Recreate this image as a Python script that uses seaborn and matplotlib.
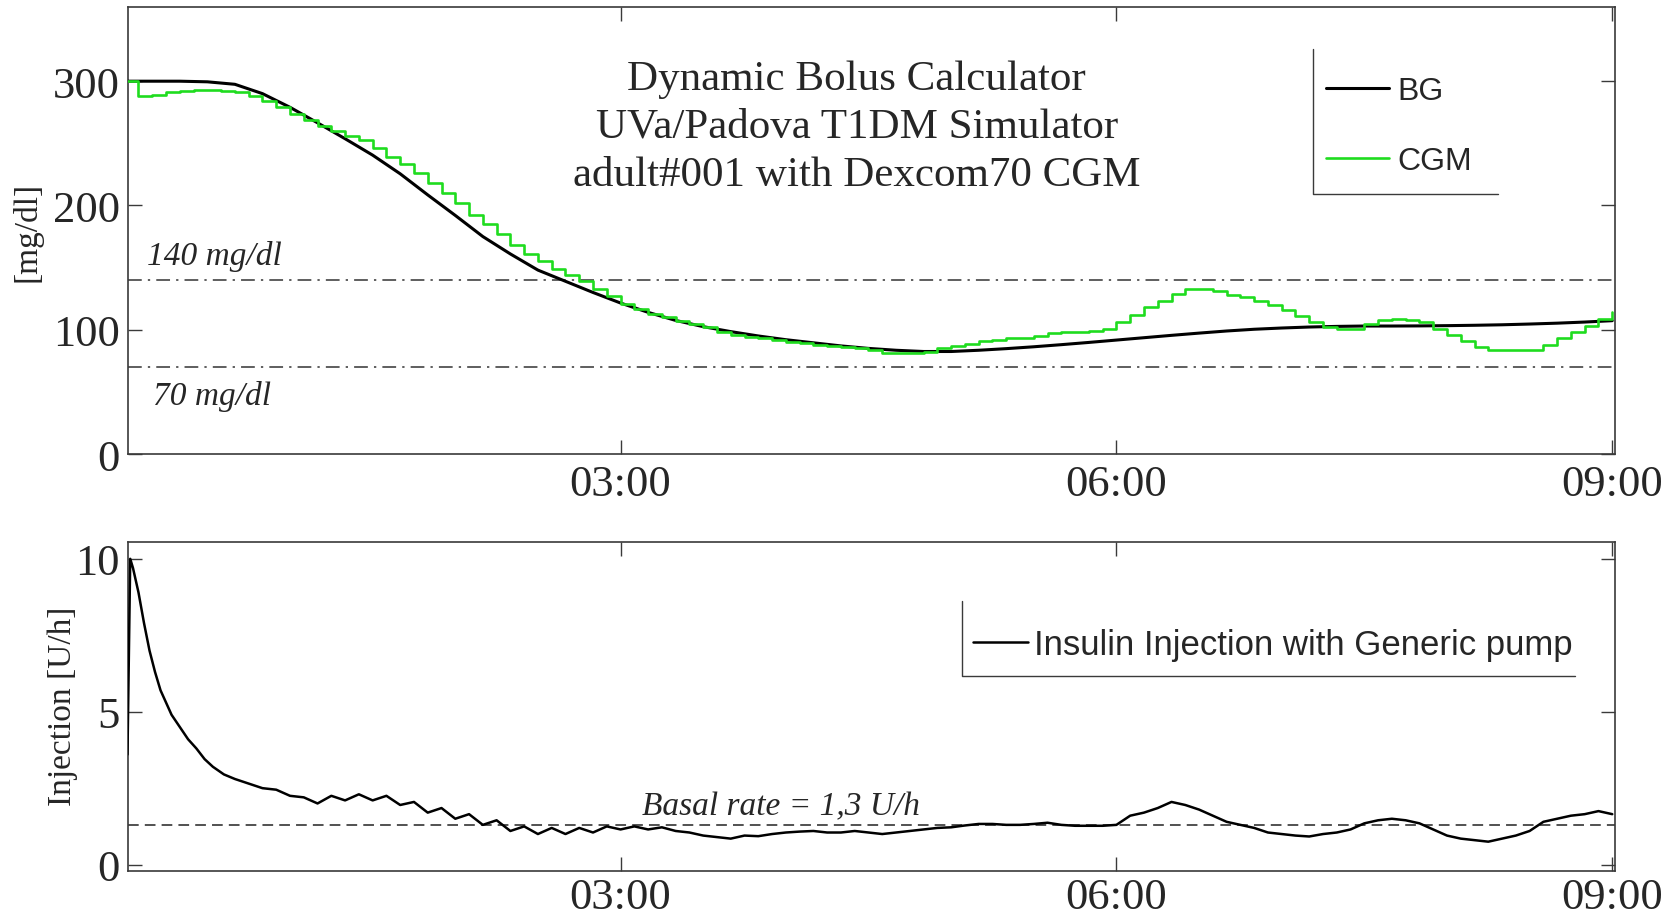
import numpy as np
import pandas as pd
import matplotlib
matplotlib.use("Agg")
import matplotlib.pyplot as plt
import seaborn as sns
from matplotlib.lines import Line2D

# ---------------- data ----------------
bg_minutes = list(range(0, 541, 10))
bg_values = [300, 300, 300, 299.5, 297.5, 290, 279, 266.5, 253.7, 240.5,
             225.5, 208.5, 192, 175, 161, 148, 139, 130, 121.5, 114,
             107.5, 102.5, 98.5, 95, 92, 89.5, 87, 85, 83.5, 82.5,
             82.5, 83.5, 84.8, 86.3, 88, 89.8, 91.7, 93.6, 95.5, 97.3,
             99, 100.4, 101.4, 102.2, 102.7, 103, 103, 103.1, 103.3, 103.6,
             104, 104.6, 105.3, 106.2, 107.3]

cgm_minutes = list(range(0, 541, 5))
cgm_values = [300, 288, 289, 291, 292.5, 293, 293, 292.5, 291, 288,
              284, 279, 274, 269, 264, 260, 256, 253, 246, 239,
              233, 226, 218, 210, 202, 192, 185, 177, 168, 161,
              155, 149, 144, 139, 133, 127, 121, 117, 113, 110,
              107, 105, 102, 98, 96, 94.5, 93.5, 92, 90.5, 89,
              88, 87, 86, 85, 83.5, 81.5, 81, 81, 82.5, 85,
              87, 88.5, 91, 92, 93, 93.5, 95, 97, 98, 98.5,
              99, 101, 106, 112, 118, 123, 129, 132.5, 132.5, 131,
              128, 126, 123, 120, 116, 111, 106, 102, 101, 101,
              105, 108, 108.5, 108, 106, 101, 96, 91, 86, 84,
              83.5, 83.5, 84, 88, 93, 98, 103, 109, 114]

ins_minutes = [1, 2, 3, 5, 7, 9, 11, 13, 15, 17, 20, 23, 26, 29, 32, 36, 40, 45, 50] + list(range(55, 541, 5))
ins_values = [3.6, 10.0, 9.7, 8.9, 7.9, 7.0, 6.3, 5.7, 5.3, 4.9, 4.5, 4.1, 3.8, 3.45, 3.2, 2.95, 2.8, 2.65, 2.5,
              2.45, 2.25, 2.2, 2.0, 2.25, 2.1, 2.3, 2.1, 2.25, 1.95,
              2.05, 1.7, 1.85, 1.5, 1.65, 1.3, 1.45, 1.1, 1.25, 1.0,
              1.2, 1.0, 1.2, 1.05, 1.25, 1.15, 1.25, 1.15, 1.22, 1.1,
              1.05, 0.95, 0.9, 0.85, 0.95, 0.93, 1.0, 1.05, 1.08, 1.1,
              1.05, 1.05, 1.1, 1.05, 1.0, 1.05, 1.1, 1.15, 1.2, 1.22,
              1.28, 1.33, 1.33, 1.3, 1.3, 1.33, 1.37, 1.3, 1.27, 1.27,
              1.27, 1.3, 1.6, 1.7, 1.85, 2.05, 1.95, 1.8, 1.6, 1.4,
              1.3, 1.2, 1.05, 1.0, 0.95, 0.92, 1.0, 1.05, 1.15, 1.35,
              1.45, 1.5, 1.45, 1.35, 1.15, 0.95, 0.85, 0.8, 0.75, 0.85,
              0.95, 1.1, 1.4, 1.5, 1.6, 1.65, 1.75, 1.65]

hyper_level = 140
hypo_level = 70
basal_rate = 1.3

xtick_minutes = [180, 360, 540]
xtick_labels = ["03:00", "06:00", "09:00"]
top_yticks = [0, 100, 200, 300]
bot_yticks = [0, 5, 10]

title_text = "Dynamic Bolus Calculator\nUVa/Padova T1DM Simulator\nadult#001 with Dexcom70 CGM"

# ---------------- style ----------------
sns.set_style("white")
plt.rcParams["font.family"] = ["Liberation Serif", "DejaVu Serif"]
plt.rcParams["axes.edgecolor"] = "#3a3a3a"
plt.rcParams["axes.linewidth"] = 1.2

SERIF = "Liberation Serif"
SANS = "Liberation Sans"
SPINE = "#3a3a3a"
GREEN = "#1fdc1f"

bg_df = pd.DataFrame({"t": bg_minutes, "v": bg_values})
cgm_df = pd.DataFrame({"t": cgm_minutes, "v": cgm_values})
ins_df = pd.DataFrame({"t": ins_minutes, "v": ins_values})

fig = plt.figure(figsize=(16.78, 9.2), dpi=100)
ax1 = fig.add_axes([0.07646, 0.5054, 0.886, 0.4855])
ax2 = fig.add_axes([0.07646, 0.0518, 0.886, 0.3583])

# ---------------- top panel ----------------
sns.lineplot(data=bg_df, x="t", y="v", ax=ax1, color="black", lw=2.2,
             estimator=None, label="BG", zorder=3)
sns.lineplot(data=cgm_df, x="t", y="v", ax=ax1, color=GREEN, lw=1.9,
             estimator=None, drawstyle="steps-post", label="CGM", zorder=4)
ax1.axhline(hyper_level, color="#333333", lw=1.1, ls=(0, (9, 4, 1.5, 4)), zorder=2)
ax1.axhline(hypo_level, color="#333333", lw=1.1, ls=(0, (9, 4, 1.5, 4)), zorder=2)
ax1.text(8.1, 152.9, "140 mg/dl", fontsize=24, style="italic", family=SERIF,
         ha="left", va="baseline")
ax1.text(10.3, 40.2, "70 mg/dl", fontsize=24, style="italic", family=SERIF,
         ha="left", va="baseline")
ax1.text(0.49, 0.733, title_text, transform=ax1.transAxes, ha="center", va="center",
         fontsize=31, family=SERIF, linespacing=1.33)

ax1.set_xlim(1.3, 541)
ax1.set_ylim(0, 359.4)
ax1.set_yticks(top_yticks)
ax1.set_xticks(xtick_minutes)
ax1.set_xticklabels(xtick_labels)
ax1.set_xlabel("")
ax1.set_ylabel("[mg/dl]", fontsize=24, family=SERIF)
ax1.yaxis.set_label_coords(-0.0575, 0.5)

leg1 = ax1.legend(loc="center left", bbox_to_anchor=(0.8055, 0.734), frameon=False,
                  borderpad=0, borderaxespad=0, handlelength=1.97, handletextpad=0.28,
                  labelspacing=1.24, prop={"family": SANS, "size": 23})
ax1.add_line(Line2D([0.797, 0.797, 0.921], [0.907, 0.582, 0.582], transform=ax1.transAxes,
                    color=SPINE, lw=1.0, clip_on=False))

# ---------------- bottom panel ----------------
sns.lineplot(data=ins_df, x="t", y="v", ax=ax2, color="black", lw=1.8,
             estimator=None, label="Insulin Injection with Generic pump", zorder=3)
ax2.axhline(basal_rate, color="#222222", lw=1.1, ls=(0, (7, 4)), zorder=2)
ax2.text(187.8, 1.66, "Basal rate = 1,3 U/h", fontsize=24, style="italic", family=SERIF,
         ha="left", va="baseline")

ax2.set_xlim(1.3, 541)
ax2.set_ylim(-0.22, 10.56)
ax2.set_yticks(bot_yticks)
ax2.set_xticks(xtick_minutes)
ax2.set_xticklabels(xtick_labels)
ax2.set_xlabel("")
ax2.set_ylabel("Injection [U/h]", fontsize=24, family=SERIF)
ax2.yaxis.set_label_coords(-0.034, 0.505)

leg2 = ax2.legend(loc="center left", bbox_to_anchor=(0.5685, 0.689), frameon=False,
                  borderpad=0, borderaxespad=0, handlelength=1.56, handletextpad=0.17,
                  prop={"family": SANS, "size": 25})
ax2.add_line(Line2D([0.561, 0.561, 0.973], [0.820, 0.5925, 0.5925], transform=ax2.transAxes,
                    color=SPINE, lw=1.0, clip_on=False))

for ax, xpad in ((ax1, 7), (ax2, 4)):
    ax.tick_params(axis="both", direction="in", length=10, width=1.0, color=SPINE,
                   top=True, right=True, bottom=True, left=True, labelsize=32)
    ax.tick_params(axis="x", pad=xpad)
    ax.tick_params(axis="y", pad=6)
    for lab in ax.get_xticklabels() + ax.get_yticklabels():
        lab.set_family(SERIF)
    for s in ax.spines.values():
        s.set_visible(True)
        s.set_color(SPINE)
        s.set_linewidth(1.2)

fig.savefig("out.png", dpi=100, facecolor="white")
